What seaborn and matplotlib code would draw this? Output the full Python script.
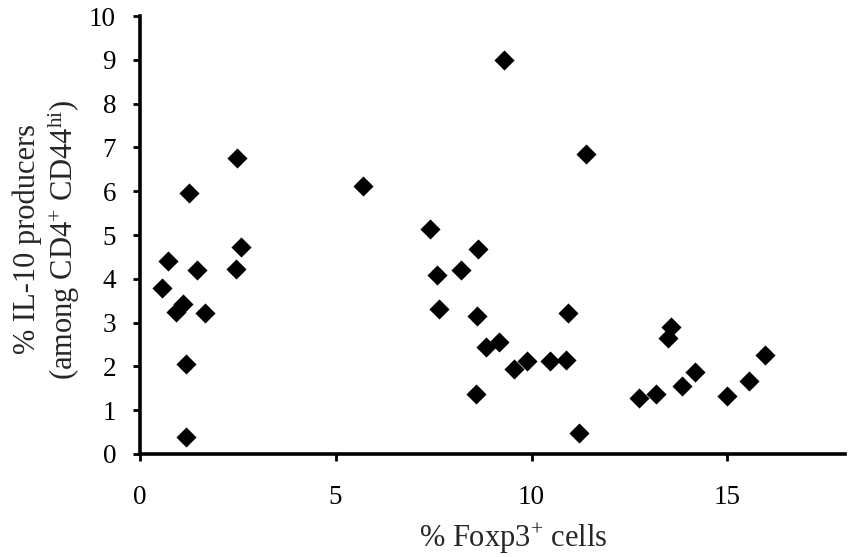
import matplotlib
matplotlib.use("Agg")
import matplotlib.pyplot as plt
import seaborn as sns
import pandas as pd

# % Foxp3+ cells vs % IL-10 producers
foxp3 = [0.56, 0.72, 0.93, 1.10, 1.17, 1.17, 1.26, 1.45, 1.67,
         2.47, 2.49, 2.58, 5.70, 7.40, 7.60, 7.64, 8.20,
         8.59, 8.61, 8.64, 8.83, 9.18, 9.30, 9.56, 9.88,
         10.46, 10.87, 10.94, 11.21, 11.40,
         12.73, 13.17, 13.49, 13.55, 13.85, 14.17, 14.99, 15.54, 15.97]
il10 = [3.78, 4.41, 3.25, 3.43, 2.05, 0.38, 5.95, 4.21, 3.23,
        4.23, 6.76, 4.73, 6.12, 5.13, 4.08, 3.30, 4.21,
        1.38, 3.16, 4.69, 2.45, 2.56, 8.99, 1.93, 2.12,
        2.12, 2.15, 3.23, 0.49, 6.84,
        1.27, 1.38, 2.65, 2.90, 1.55, 1.88, 1.32, 1.67, 2.26]
x_ticks = [0, 5, 10, 15]
y_ticks = list(range(0, 11))

df = pd.DataFrame({"foxp3": foxp3, "il10": il10})

sns.set_style("ticks")
plt.rcParams["font.family"] = ["Liberation Serif", "DejaVu Serif"]
plt.rcParams["mathtext.fontset"] = "custom"
plt.rcParams["mathtext.rm"] = "Liberation Serif"
plt.rcParams["mathtext.it"] = "Liberation Serif:italic"

fig = plt.figure(figsize=(8.57, 5.57), dpi=100)
ax = fig.add_axes([0.163, 0.185, 0.823, 0.786])

sns.scatterplot(data=df, x="foxp3", y="il10", marker="D", color="black",
                s=105, linewidth=0, ax=ax, zorder=3)

ax.set_xlim(0, 18)
ax.set_ylim(0, 10)
ax.set_xticks(x_ticks)
ax.set_yticks(y_ticks)
ax.tick_params(axis="both", labelsize=19.5, colors="black", width=2, length=5,
               direction="out")
ax.tick_params(axis="x", pad=17)
ax.tick_params(axis="y", pad=12)
for side in ["left", "bottom"]:
    ax.spines[side].set_linewidth(2.6)
    ax.spines[side].set_color("black")
sns.despine(ax=ax)

ax.set_xlabel("% Foxp3$^{+}$ cells", fontsize=22)
ax.xaxis.set_label_coords(0.53, -0.155)
ax.set_ylabel("% IL-10 producers\n(among CD4$^{+}$ CD44$^{\\mathrm{hi}}$)",
              fontsize=22, linespacing=1.12)
ax.yaxis.set_label_coords(-0.082, 0.49)

fig.savefig("out.png", dpi=100)
